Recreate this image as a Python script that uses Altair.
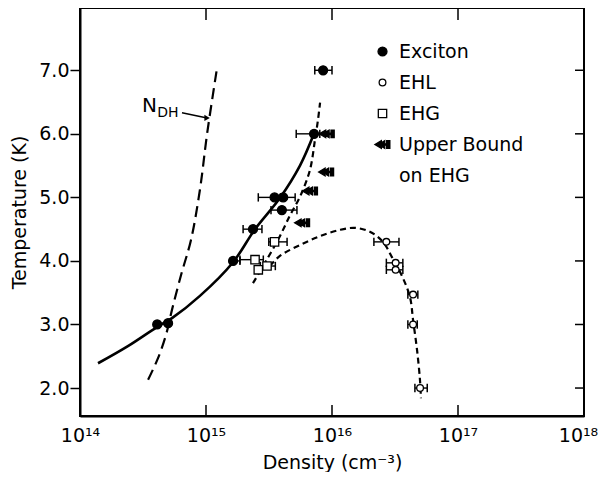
import altair as alt
import pandas as pd

FONT = "DejaVu Sans"
W, H = 504, 408

# ---------------- data ----------------
# Exciton (filled circles)
exc_density = [4.1e14, 5.0e14, 1.64e15, 2.36e15, 4.0e15, 3.5e15, 4.1e15, 7.2e15, 8.5e15]
exc_temp = [3.0, 3.02, 4.0, 4.5, 4.8, 5.0, 5.0, 6.0, 7.0]
exc_lo = [None, None, 1.64e15, 1.97e15, 3.28e15, 2.6e15, 3.6e15, 5.2e15, 7.3e15]
exc_hi = [None, None, 1.86e15, 2.78e15, 5.27e15, 3.9e15, 5.1e15, 8.0e15, 1.0e16]

# EHL (open circles)
ehl_density = [2.7e16, 3.2e16, 3.2e16, 4.4e16, 4.4e16, 5.0e16]
ehl_temp = [4.3, 3.97, 3.86, 3.47, 3.0, 2.0]
ehl_lo = [2.15e16, 2.7e16, 2.7e16, 4.0e16, 4.0e16, 4.55e16]
ehl_hi = [3.4e16, 3.65e16, 3.65e16, 4.8e16, 4.75e16, 5.7e16]

# EHG (open squares)
ehg_density = [3.5e15, 2.45e15, 3.05e15, 2.6e15]
ehg_temp = [4.3, 4.02, 3.92, 3.86]
ehg_lo = [3.15e15, 1.86e15, 2.7e15, None]
ehg_hi = [4.4e15, 2.85e15, 3.55e15, None]

# Upper bound on EHG (arrows)
ub_density = [9.1e15, 9.0e15, 6.7e15, 5.8e15]
ub_temp = [6.0, 5.4, 5.1, 4.6]

# Curves
exc_curve_density = [1.39e14, 2.40e14, 4.08e14, 5.37e14, 8.95e14, 1.64e15, 2.45e15, 3.86e15, 5.57e15, 7.19e15]
exc_curve_temp = [2.39, 2.66, 2.96, 3.10, 3.45, 3.98, 4.50, 4.99, 5.50, 6.0]

ndh_density = [3.47e14, 4.16e14, 4.82e14, 5.37e14, 6.34e14, 7.60e14, 8.95e14, 1.02e15, 1.22e15]
ndh_temp = [2.13, 2.47, 2.84, 3.23, 3.78, 4.33, 5.12, 6.0, 7.02]

ehg_curve_density = [2.36e15, 3.10e15, 3.86e15, 4.65e15, 5.57e15, 6.68e15, 7.33e15, 7.74e15, 8.04e15]
ehg_curve_temp = [3.65, 4.05, 4.39, 4.72, 5.01, 5.43, 5.91, 6.22, 6.49]

ehl_curve_density = [3.22e15, 3.86e15, 5.57e15, 8.04e15, 1.16e16, 1.52e16, 2.00e16, 2.54e16,
                     2.99e16, 3.60e16, 4.16e16, 4.40e16, 4.73e16, 4.99e16, 5.08e16]
ehl_curve_temp = [3.92, 4.08, 4.25, 4.39, 4.49, 4.52, 4.46, 4.30, 4.06, 3.76, 3.43, 3.07, 2.60, 2.13, 1.84]

# N_DH annotation
ndh_label_density = [3.1e14]
ndh_label_temp = [6.35]
ndh_sub_density = [4.1e14]
ndh_sub_temp = [6.27]
ndh_leader_density = [6.45e14, 1.02e15]
ndh_leader_temp = [6.33, 6.25]

# Axis ticks
x_labels = [1e14, 1e15, 1e16, 1e17, 1e18]
x_inner_ticks = [1e15, 1e16, 1e17]
y_ticks = [2, 3, 4, 5, 6, 7]

kinds = ["Exciton", "EHL", "EHG", "Upper Bound", "on EHG"]
ARROW = ("M-1,0L-0.15,-0.5L-0.15,0.5Z M-0.55,0L0.3,-0.5L0.3,0.5Z "
         "M0.3,-0.09L0.95,-0.09L0.95,0.09L0.3,0.09Z "
         "M0.55,-0.5L0.68,-0.5L0.68,0.5L0.55,0.5Z M0.84,-0.5L0.97,-0.5L0.97,0.5L0.84,0.5Z")

# ---------------- tables ----------------
pts = pd.concat([
    pd.DataFrame({"density": exc_density, "temp": exc_temp, "lo": exc_lo, "hi": exc_hi, "kind": "Exciton"}),
    pd.DataFrame({"density": ehl_density, "temp": ehl_temp, "lo": ehl_lo, "hi": ehl_hi, "kind": "EHL"}),
    pd.DataFrame({"density": ehg_density, "temp": ehg_temp, "lo": ehg_lo, "hi": ehg_hi, "kind": "EHG"}),
    pd.DataFrame({"density": ub_density, "temp": ub_temp, "lo": None, "hi": None, "kind": "Upper Bound"}),
], ignore_index=True)
pts["lo"] = pd.to_numeric(pts["lo"])
pts["hi"] = pd.to_numeric(pts["hi"])
err = pts.dropna(subset=["lo"])
caps = err.melt(id_vars=["temp", "kind"], value_vars=["lo", "hi"], value_name="end")


def curve(name, d, t):
    return pd.DataFrame({"density": d, "temp": t, "curve": name, "i": list(range(len(d)))})


exc_curve = curve("exc", exc_curve_density, exc_curve_temp)
ndh_curve = curve("ndh", ndh_density, ndh_temp)
dash_curves = pd.concat([curve("ehg", ehg_curve_density, ehg_curve_temp),
                         curve("ehl", ehl_curve_density, ehl_curve_temp)], ignore_index=True)

# ---------------- scales / axes ----------------
xs = alt.Scale(type="log", domain=[1e14, 1e18], nice=False)
ys = alt.Scale(domain=[1.56, 7.98], nice=False, zero=False)

label_expr = ("datum.value < 5e14 ? '10¹⁴' : datum.value < 5e15 ? '10¹⁵' : "
              "datum.value < 5e16 ? '10¹⁶' : datum.value < 5e17 ? '10¹⁷' : '10¹⁸'")
xaxis = alt.Axis(values=x_labels, ticks=False, labelExpr=label_expr, labelFlush=False,
                 labelOverlap=False, labelFont=FONT, labelFontSize=19, labelColor="black",
                 labelOffset={"condition": {"test": "datum.value > 5e17", "value": -6}, "value": 0},
                 labelPadding=10, domainColor="black", domainWidth=2, grid=False,
                 title="Density (cm⁻³)", titleFont=FONT, titleFontSize=19,
                 titleFontWeight="normal", titleColor="black", titlePadding=8)
yaxis = alt.Axis(values=y_ticks, format=".1f", tickSize=10, tickWidth=1.5, tickColor="black",
                 labelFont=FONT, labelFontSize=19, labelColor="black", labelPadding=1,
                 domainColor="black", domainWidth=2, grid=False,
                 title="Temperature (K)", titleFont=FONT, titleFontSize=19,
                 titleFontWeight="normal", titleColor="black", titlePadding=9)


def X(f):
    return alt.X(f, type="quantitative", scale=xs, axis=xaxis)


def Y(f):
    return alt.Y(f, type="quantitative", scale=ys, axis=yaxis)


legend = alt.Legend(title=None, orient="none", legendX=293, legendY=34, padding=0,
                    labelFont=FONT, labelFontSize=19, labelColor="black", labelOffset=7,
                    rowPadding=11, symbolStrokeWidth=1.3)

# ---------------- layers ----------------
solid = alt.Chart(exc_curve).mark_line(color="black", strokeWidth=2.6, interpolate="catmull-rom").encode(
    x=X("density"), y=Y("temp"), order="i:Q")
ndh = alt.Chart(ndh_curve).mark_line(color="black", strokeWidth=2.2, strokeDash=[11, 6],
                                     interpolate="catmull-rom").encode(
    x=X("density"), y=Y("temp"), order="i:Q")
dashed = alt.Chart(dash_curves).mark_line(color="black", strokeWidth=2.2, strokeDash=[6, 4],
                                          interpolate="catmull-rom").encode(
    x=X("density"), y=Y("temp"), detail="curve:N", order="i:Q")

bars = alt.Chart(err).mark_rule(color="black", strokeWidth=1.4).encode(
    x=X("lo"), x2="hi:Q", y=Y("temp"))
capm = alt.Chart(caps).mark_point(shape="M0,-1L0,1", size=70, color="black", strokeWidth=1.5,
                                  filled=False, opacity=1).encode(x=X("end"), y=Y("temp"))

points = alt.Chart(pts).mark_point(filled=True, strokeWidth=1.3, opacity=1).encode(
    x=X("density"), y=Y("temp"),
    shape=alt.Shape("kind:N", scale=alt.Scale(domain=kinds, range=["circle", "circle", "square", ARROW, "M0,0"]),
                    legend=legend),
    fill=alt.Fill("kind:N", scale=alt.Scale(domain=kinds, range=["black", "white", "white", "black", "transparent"]),
                  legend=legend),
    stroke=alt.Stroke("kind:N", scale=alt.Scale(domain=kinds, range=["black", "black", "black", "black", "transparent"]),
                      legend=legend),
    size=alt.Size("kind:N", scale=alt.Scale(type="ordinal", domain=kinds, range=[80, 45, 70, 230, 0]),
                  legend=legend),
)

lab_n = alt.Chart(pd.DataFrame({"d": ndh_label_density, "t": ndh_label_temp, "s": ["N"]})).mark_text(
    font=FONT, fontSize=20, align="left", baseline="alphabetic", color="black").encode(
    x=X("d"), y=Y("t"), text="s:N")
lab_dh = alt.Chart(pd.DataFrame({"d": ndh_sub_density, "t": ndh_sub_temp, "s": ["DH"]})).mark_text(
    font=FONT, fontSize=14, align="left", baseline="alphabetic", color="black").encode(
    x=X("d"), y=Y("t"), text="s:N")
leader_df = pd.DataFrame({"d": ndh_leader_density, "t": ndh_leader_temp, "i": [0, 1]})
leader = alt.Chart(leader_df).mark_line(color="black", strokeWidth=1.5).encode(
    x=X("d"), y=Y("t"), order="i:Q")
leader_tip = alt.Chart(leader_df.tail(1)).mark_point(shape="triangle-right", size=40, filled=True,
                                                    color="black", opacity=1).encode(
    x=X("d"), y=Y("t"))

# inward frame ticks
xt = pd.DataFrame({"v": x_inner_ticks})
yt = pd.DataFrame({"v": y_ticks})
bottom_ticks = alt.Chart(xt).mark_rule(color="black", strokeWidth=1.5).encode(
    x=X("v"), y=alt.value(H), y2=alt.value(H - 11))
top_ticks = alt.Chart(xt).mark_rule(color="black", strokeWidth=1.5).encode(
    x=X("v"), y=alt.value(0), y2=alt.value(12))
right_ticks = alt.Chart(yt).mark_rule(color="black", strokeWidth=1.5).encode(
    y=Y("v"), x=alt.value(W), x2=alt.value(W - 9))

chart = alt.layer(
    bottom_ticks, top_ticks, right_ticks,
    ndh, dashed, solid, bars, capm, points, lab_n, lab_dh, leader, leader_tip,
).properties(
    width=W, height=H,
    autosize=alt.AutoSizeParams(type="none"),
    padding={"left": 72, "top": 0, "right": 14, "bottom": 56},
    background="white",
).configure_view(stroke="black", strokeWidth=2)

chart.save("out.html", embed_options={"renderer": "svg", "actions": False})
